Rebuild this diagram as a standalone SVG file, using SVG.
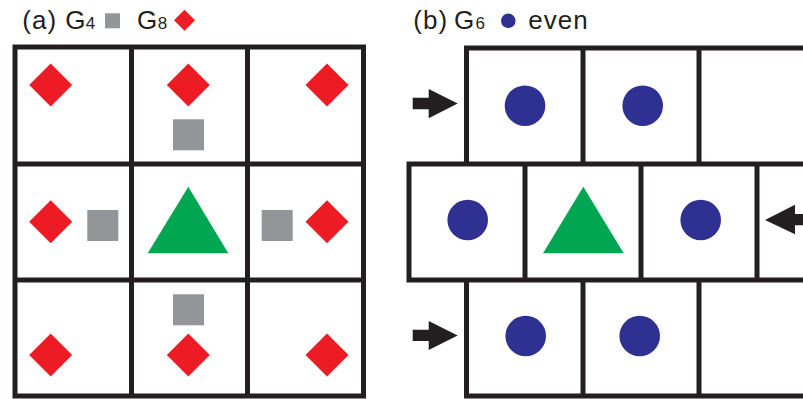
<svg xmlns="http://www.w3.org/2000/svg" width="803" height="399" viewBox="0 0 803 399">
<defs>
<style>
.t{font-family:"Liberation Sans",Arial,sans-serif;font-size:26px;fill:#231f20}
.ls{letter-spacing:1px}
.s{font-family:"Liberation Sans",Arial,sans-serif;font-size:17px;fill:#231f20}
.grid{fill:none;stroke:#231f20;stroke-width:5;stroke-linecap:square}
.dia{fill:#ed1c24}
.sq{fill:#939598}
.tri{fill:#00a651}
.dot{fill:#2e3192}
.arr{fill:#231f20}
</style>
<polygon id="d" points="0,-21.5 21.5,0 0,21.5 -21.5,0"/>
</defs>
<rect width="803" height="399" fill="#fff"/>

<g id="legend-a">
<text class="t ls" x="22.3" y="28.6">(a)</text>
<text class="t" x="65.2" y="28.6">G</text>
<text class="s" x="85.7" y="28.6">4</text>
<rect class="sq" x="105" y="13.3" width="15" height="15"/>
<text class="t" x="137" y="28.6">G</text>
<text class="s" x="157.8" y="28.6">8</text>
<polygon class="dia" points="184.5,9.8 195,20.3 184.5,30.8 174,20.3"/>
</g>
<g id="legend-b">
<text class="t ls" x="413.3" y="28.6">(b)</text>
<text class="t" x="454" y="28.6">G</text>
<text class="s" x="475.5" y="28.6">6</text>
<circle class="dot" cx="508.3" cy="20.8" r="7.3"/>
<text class="t ls" x="528.3" y="28.6">even</text>
</g>

<g id="grid-a">
<path class="grid" d="M15,47H363.5V396H15Z M131.5,47V396 M247.5,47V396 M15,164H363.5 M15,280H363.5"/>
</g>
<g id="grid-b">
<path class="grid" d="M803,48H466.5V164 M583,48V164 M699,48V164 M803,164H409V280H803 M525,164V280 M641,164V280 M757,164V280 M466.5,280V396H803 M583,280V396 M699,280V396"/>
</g>

<g id="a-r1c1"><use href="#d" class="dia" x="50.7" y="85"/></g>
<g id="a-r1c2"><use href="#d" class="dia" x="188.3" y="85"/><rect class="sq" x="173" y="119.3" width="31" height="31"/></g>
<g id="a-r1c3"><use href="#d" class="dia" x="327" y="85"/></g>
<g id="a-r2c1"><use href="#d" class="dia" x="50.7" y="221.7"/><rect class="sq" x="87.3" y="210" width="31" height="31"/></g>
<g id="a-r2c2"><polygon class="tri" points="188.3,186.7 228.3,253.3 147.7,253.3"/></g>
<g id="a-r2c3"><rect class="sq" x="261.7" y="210" width="31" height="31"/><use href="#d" class="dia" x="327" y="221.7"/></g>
<g id="a-r3c1"><use href="#d" class="dia" x="50.7" y="355"/></g>
<g id="a-r3c2"><rect class="sq" x="173" y="294.3" width="31" height="31"/><use href="#d" class="dia" x="188.3" y="355"/></g>
<g id="a-r3c3"><use href="#d" class="dia" x="327" y="355"/></g>

<g id="b-r1c1"><circle class="dot" cx="525" cy="105.7" r="20.3"/></g>
<g id="b-r1c2"><circle class="dot" cx="642.7" cy="105.7" r="20.3"/></g>
<g id="b-r2c1"><circle class="dot" cx="467.7" cy="220" r="20.3"/></g>
<g id="b-r2c2"><polygon class="tri" points="583.3,186.7 623.7,253.3 543,253.3"/></g>
<g id="b-r2c3"><circle class="dot" cx="700.7" cy="220" r="20.3"/></g>
<g id="b-r3c1"><circle class="dot" cx="525.7" cy="336" r="20.3"/></g>
<g id="b-r3c2"><circle class="dot" cx="639.7" cy="336" r="20.3"/></g>

<g id="connectors">
<polygon class="arr" points="412.7,97.7 428.7,97.7 428.7,89 457.7,103.5 428.7,118.3 428.7,109.3 412.7,109.3"/>
<polygon class="arr" points="412.7,329.7 428.7,329.7 428.7,321 457.7,335.5 428.7,350 428.7,341 412.7,341"/>
<polygon class="arr" points="803,214 795,214 795,204.7 765,220 795,234.3 795,225.3 803,225.3"/>
</g>
</svg>
